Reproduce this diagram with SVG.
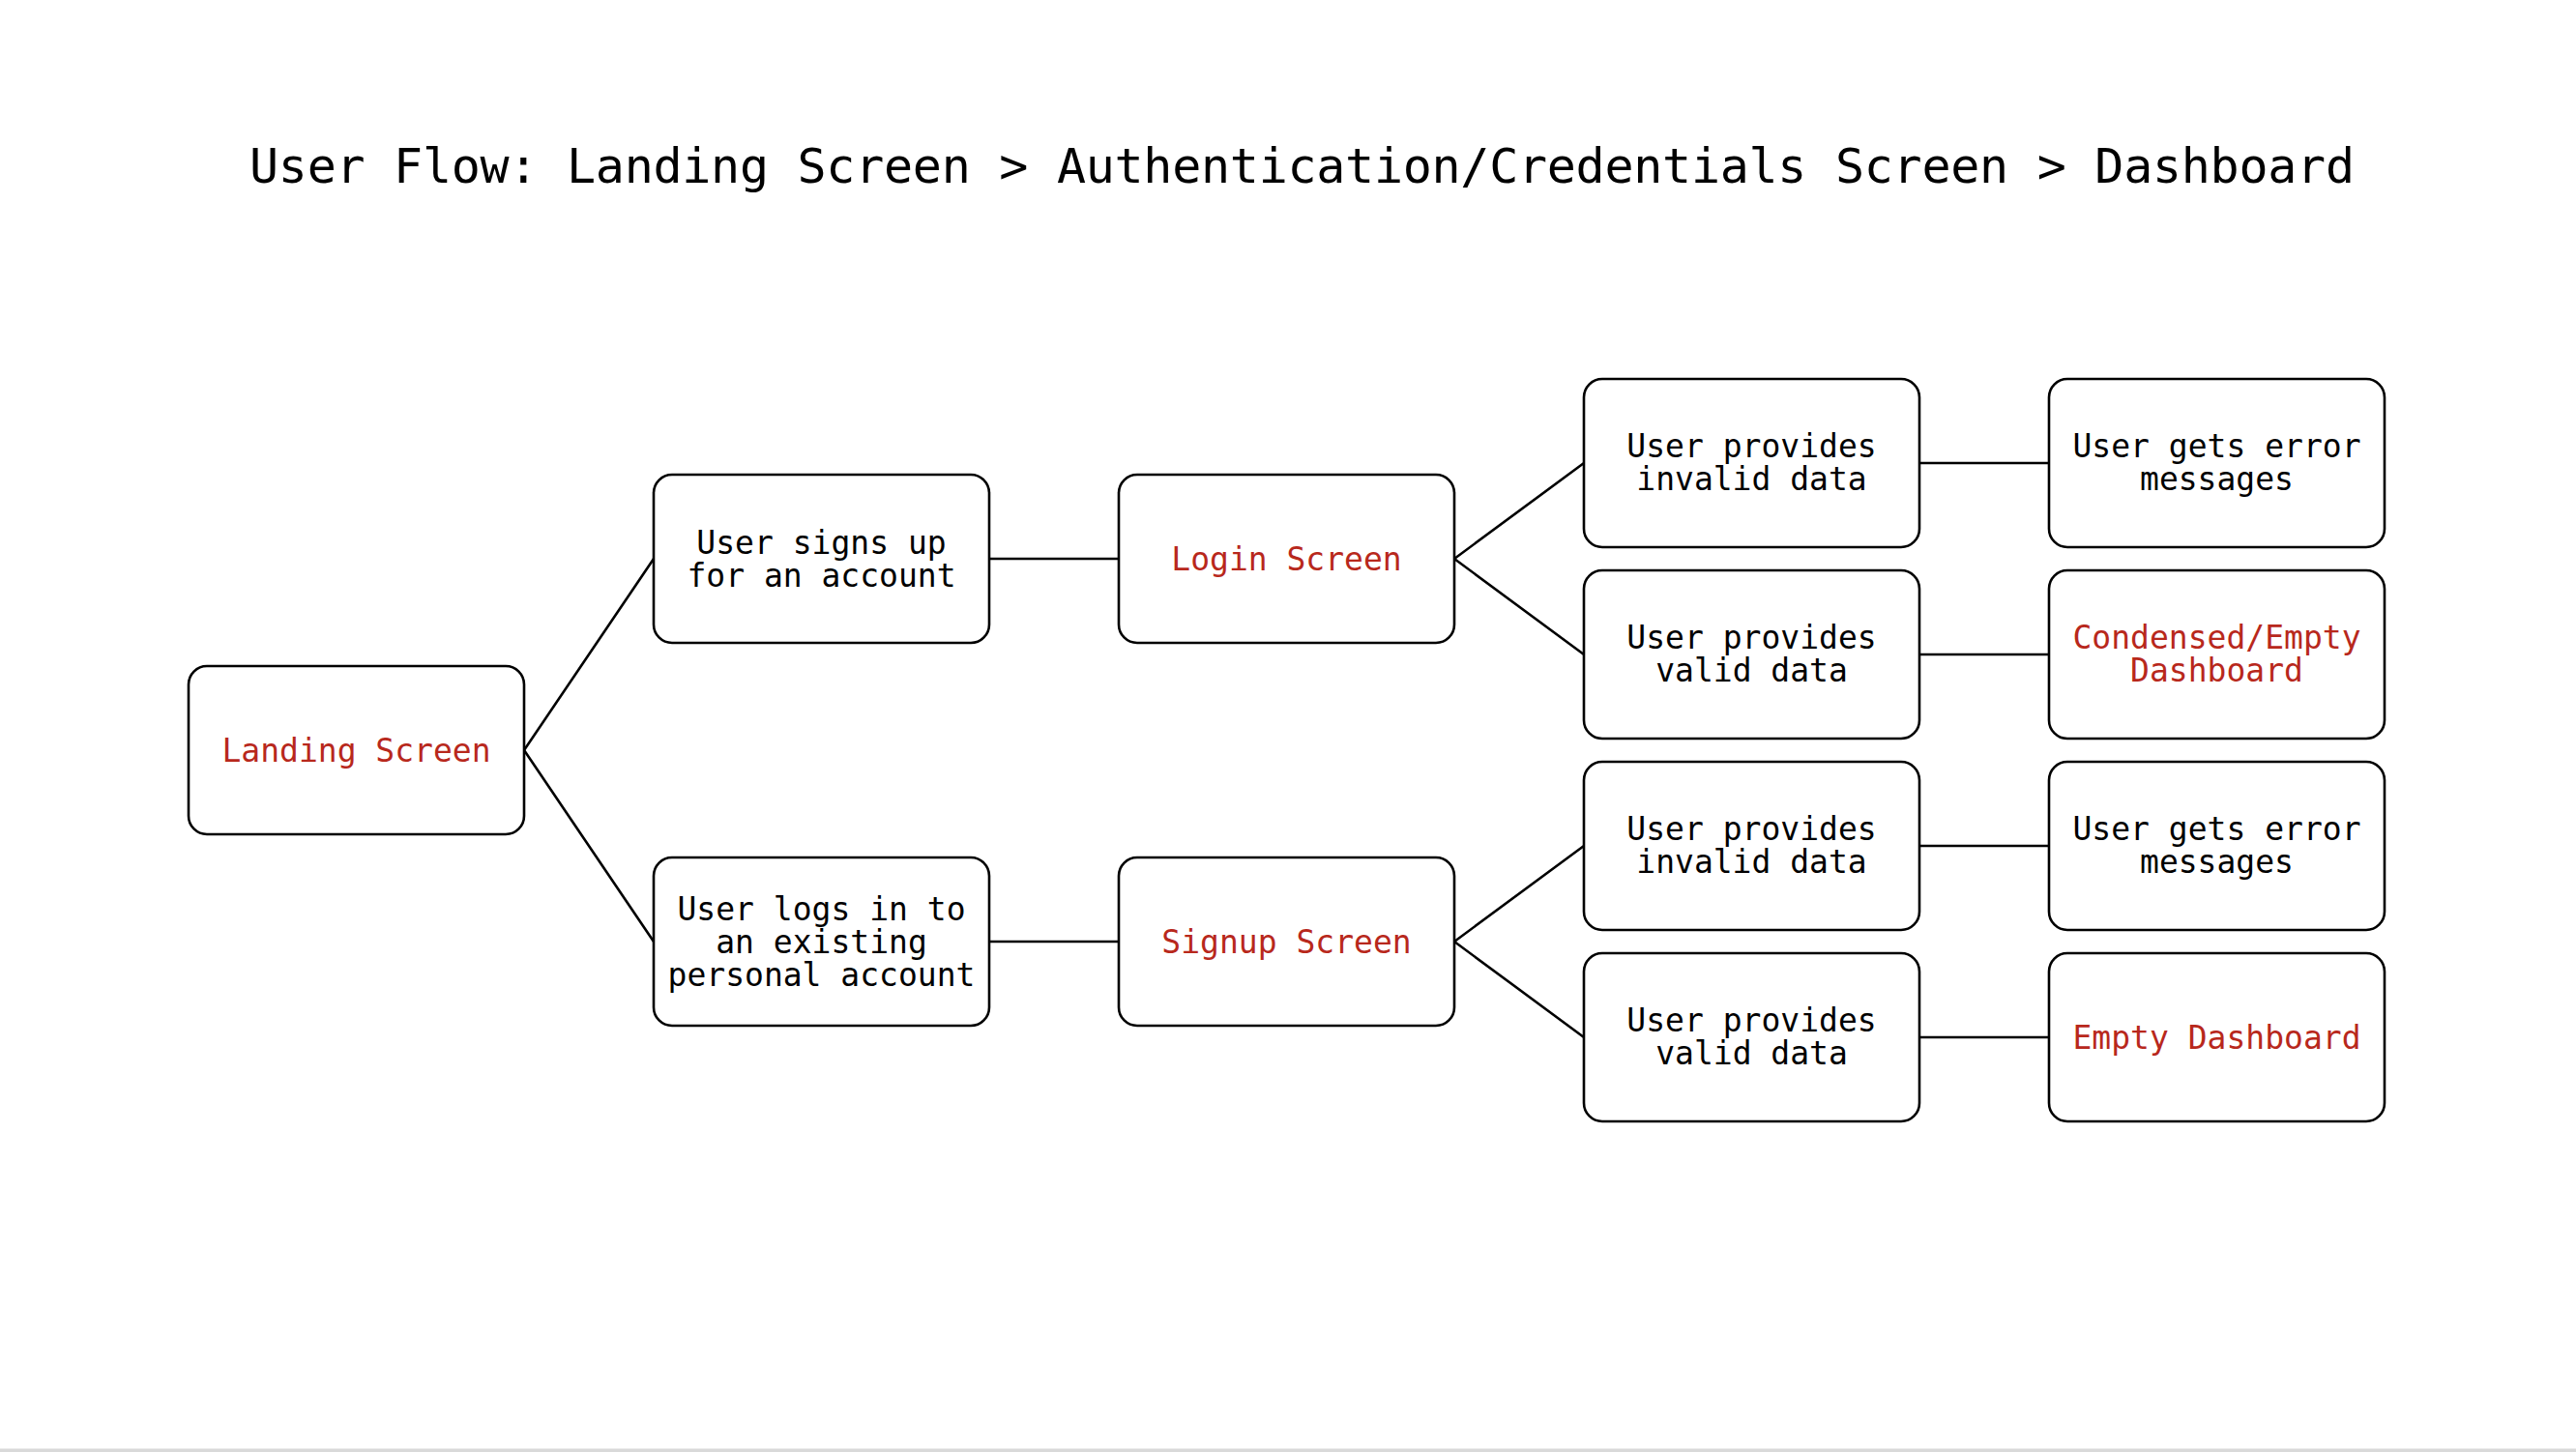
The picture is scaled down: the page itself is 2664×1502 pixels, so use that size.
<svg xmlns="http://www.w3.org/2000/svg" width="2664" height="1502" viewBox="0 0 2664 1502">
<style>
.box{fill:#fff;stroke:#000;stroke-width:2.6}
.t{font-family:"DejaVu Sans Mono","Liberation Mono",monospace;font-size:33px;text-anchor:middle;fill:#000}
.r{fill:#b8281c}
.title{font-family:"DejaVu Sans Mono","Liberation Mono",monospace;font-size:50px;fill:#000}
.c{stroke:#000;stroke-width:2.6;fill:none}
</style>
<rect x="0" y="0" width="2664" height="1502" fill="#fff"/>
<rect x="0" y="1498.5" width="2664" height="3.5" fill="#d9d9d9"/>
<text class="title" x="258" y="189" textLength="2177" lengthAdjust="spacing">User Flow: Landing Screen &gt; Authentication/Credentials Screen &gt; Dashboard</text>
<g id="connectors">
<path class="c" d="M542,776 L676,578 M542,776 L676,974"/>
<path class="c" d="M1023,578 L1157,578 M1023,974 L1157,974"/>
<path class="c" d="M1504,578 L1638,479 M1504,578 L1638,677"/>
<path class="c" d="M1504,974 L1638,875 M1504,974 L1638,1073"/>
<path class="c" d="M1985,479 L2119,479 M1985,677 L2119,677 M1985,875 L2119,875 M1985,1073 L2119,1073"/>
</g>
<g id="landing">
<rect class="box" x="195" y="689" width="347" height="174" rx="19"/>
<text class="t r" x="368.5" y="788">Landing Screen</text>
</g>
<g id="signs-up">
<rect class="box" x="676" y="491" width="347" height="174" rx="19"/>
<text class="t" x="849.5" y="573">User signs up</text>
<text class="t" x="849.5" y="607">for an account</text>
</g>
<g id="logs-in">
<rect class="box" x="676" y="887" width="347" height="174" rx="19"/>
<text class="t" x="849.5" y="952">User logs in to</text>
<text class="t" x="849.5" y="986">an existing</text>
<text class="t" x="849.5" y="1020">personal account</text>
</g>
<g id="login">
<rect class="box" x="1157" y="491" width="347" height="174" rx="19"/>
<text class="t r" x="1330.5" y="590">Login Screen</text>
</g>
<g id="signup">
<rect class="box" x="1157" y="887" width="347" height="174" rx="19"/>
<text class="t r" x="1330.5" y="986">Signup Screen</text>
</g>
<g id="login-invalid">
<rect class="box" x="1638" y="392" width="347" height="174" rx="19"/>
<text class="t" x="1811.5" y="473">User provides</text>
<text class="t" x="1811.5" y="507">invalid data</text>
</g>
<g id="login-valid">
<rect class="box" x="1638" y="590" width="347" height="174" rx="19"/>
<text class="t" x="1811.5" y="671">User provides</text>
<text class="t" x="1811.5" y="705">valid data</text>
</g>
<g id="signup-invalid">
<rect class="box" x="1638" y="788" width="347" height="174" rx="19"/>
<text class="t" x="1811.5" y="869">User provides</text>
<text class="t" x="1811.5" y="903">invalid data</text>
</g>
<g id="signup-valid">
<rect class="box" x="1638" y="986" width="347" height="174" rx="19"/>
<text class="t" x="1811.5" y="1067">User provides</text>
<text class="t" x="1811.5" y="1101">valid data</text>
</g>
<g id="login-error">
<rect class="box" x="2119" y="392" width="347" height="174" rx="19"/>
<text class="t" x="2292.5" y="473">User gets error</text>
<text class="t" x="2292.5" y="507">messages</text>
</g>
<g id="condensed-dashboard">
<rect class="box" x="2119" y="590" width="347" height="174" rx="19"/>
<text class="t r" x="2292.5" y="671">Condensed/Empty</text>
<text class="t r" x="2292.5" y="705">Dashboard</text>
</g>
<g id="signup-error">
<rect class="box" x="2119" y="788" width="347" height="174" rx="19"/>
<text class="t" x="2292.5" y="869">User gets error</text>
<text class="t" x="2292.5" y="903">messages</text>
</g>
<g id="empty-dashboard">
<rect class="box" x="2119" y="986" width="347" height="174" rx="19"/>
<text class="t r" x="2292.5" y="1085">Empty Dashboard</text>
</g>
</svg>
